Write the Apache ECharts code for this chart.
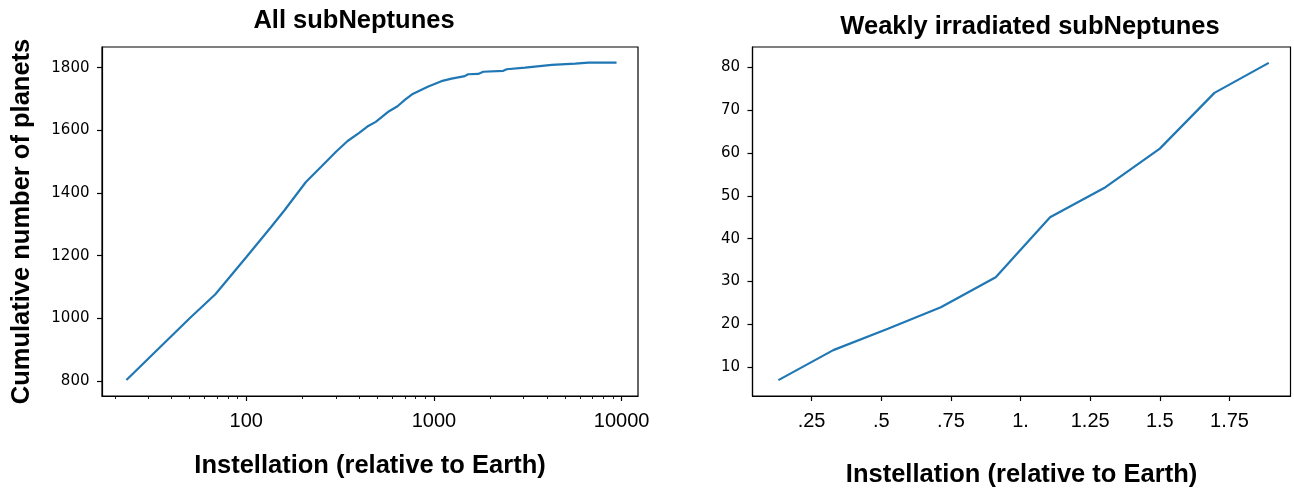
<!DOCTYPE html>
<html>
<head>
<meta charset="utf-8">
<script src="https://cdn.jsdelivr.net/npm/echarts@6/dist/echarts.min.js"></script>
<style>
  html, body { margin: 0; padding: 0; background: #fff; }
  #chart { width: 1294px; height: 489px; }
</style>
</head>
<body>
<div id="chart"></div>
<script>
// left panel: all subNeptunes, cumulative count against instellation (log axis)
var allInstellation = [23, 50, 68.5, 100, 135, 160, 208, 250, 300, 347, 400, 442, 490, 577, 640, 700,
  771, 927, 1096, 1243, 1460, 1521, 1722, 1832, 2344, 2442, 3062, 4247, 5660, 6670, 9400];
var allCount = [803, 1000, 1077, 1195, 1290, 1345, 1435, 1483, 1531, 1566, 1592, 1612, 1627, 1661, 1677, 1697,
  1716, 1739, 1757, 1765, 1773, 1779, 1780, 1787, 1790, 1795, 1800, 1809, 1813, 1816, 1816];

// right panel: weakly irradiated subNeptunes
var weakInstellation = [0.131, 0.328, 0.524, 0.714, 0.911, 1.106, 1.305, 1.5, 1.696, 1.891];
var weakCount = [7, 14, 19, 24, 31, 45, 52, 61, 74, 81];

// ticks and labels
var allXTicks = [100, 1000, 10000];
var allXLabels = ['100', '1000', '10000'];
var allXMinorTicks = [20, 30, 40, 50, 60, 70, 80, 90, 200, 300, 400, 500, 600, 700, 800, 900,
  2000, 3000, 4000, 5000, 6000, 7000, 8000, 9000];
var allYTicks = [800, 1000, 1200, 1400, 1600, 1800];
var weakXTicks = [0.25, 0.5, 0.75, 1, 1.25, 1.5, 1.75];
var weakXLabels = ['.25', '.5', '.75', '1.', '1.25', '1.5', '1.75'];
var weakYTicks = [10, 20, 30, 40, 50, 60, 70, 80];

function pairs(xs, ys) {
  return xs.map(function (x, i) { return [x, ys[i]]; });
}

var blue = '#1f77b4';
var boldName = { fontFamily: 'Liberation Sans', fontWeight: 'bold', fontSize: 25.5, color: '#000' };
var xLabelStyle = { fontFamily: 'Liberation Sans', fontSize: 20, color: '#000', margin: 15 };
var yLabelStyle = { fontFamily: 'DejaVu Sans', fontSize: 15, color: '#000', margin: 12.5,
  formatter: function (v) { return String(v); } };
var tickStyle = { length: 5, lineStyle: { color: '#000', width: 1.2 } };
var lineAxis = { show: true, lineStyle: { color: '#000', width: 1.2 } };

var myChart = echarts.init(document.getElementById('chart'));
myChart.setOption({
  animation: false,
  backgroundColor: '#fff',
  title: [
    { text: 'All subNeptunes', left: 354, top: 21, textAlign: 'center', textVerticalAlign: 'middle',
      padding: 0, textStyle: boldName },
    { text: 'Weakly irradiated subNeptunes', left: 1030, top: 26.5, textAlign: 'center', textVerticalAlign: 'middle',
      padding: 0, textStyle: boldName }
  ],
  grid: [
    { left: 102, top: 47, width: 536, height: 349, show: true, borderColor: '#000', borderWidth: 1.2,
      outerBoundsMode: 'none' },
    { left: 102, top: 47, width: 536, height: 349, show: false, outerBoundsMode: 'none' },
    { left: 752.5, top: 47, width: 538, height: 349, show: true, borderColor: '#000', borderWidth: 1.2,
      outerBoundsMode: 'none' }
  ],
  xAxis: [
    {
      type: 'log', gridIndex: 0, logBase: 10, min: 17.05, max: 12230,
      axisLine: lineAxis, splitLine: { show: false },
      axisTick: Object.assign({ customValues: allXTicks }, tickStyle),
      axisLabel: Object.assign({
        customValues: allXTicks,
        formatter: function (v) { return allXLabels[allXTicks.indexOf(Math.round(v))] || ''; }
      }, xLabelStyle),
      name: 'Instellation (relative to Earth)', nameLocation: 'middle', nameGap: 57, nameTextStyle: boldName
    },
    {
      type: 'log', gridIndex: 1, logBase: 10, min: 17.05, max: 12230,
      axisLine: { show: false }, splitLine: { show: false }, axisLabel: { show: false },
      axisTick: { customValues: allXMinorTicks, length: 3, lineStyle: { color: '#000', width: 0.9 } }
    },
    {
      type: 'value', gridIndex: 2, min: 0.038, max: 1.969,
      axisLine: lineAxis, splitLine: { show: false },
      axisTick: Object.assign({ customValues: weakXTicks }, tickStyle),
      axisLabel: Object.assign({
        customValues: weakXTicks,
        formatter: function (v) {
          for (var i = 0; i < weakXTicks.length; i++) {
            if (Math.abs(weakXTicks[i] - v) < 1e-6) return weakXLabels[i];
          }
          return '';
        }
      }, xLabelStyle),
      name: 'Instellation (relative to Earth)', nameLocation: 'middle', nameGap: 66, nameTextStyle: boldName
    }
  ],
  yAxis: [
    {
      type: 'value', gridIndex: 0, min: 752, max: 1866,
      axisLine: lineAxis, splitLine: { show: false },
      axisTick: Object.assign({ customValues: allYTicks }, tickStyle),
      axisLabel: Object.assign({ customValues: allYTicks }, yLabelStyle),
      name: 'Cumulative number of planets', nameLocation: 'middle', nameGap: 67, nameTextStyle: boldName
    },
    { type: 'value', gridIndex: 1, min: 752, max: 1866, show: false },
    {
      type: 'value', gridIndex: 2, min: 3.3, max: 84.7,
      axisLine: lineAxis, splitLine: { show: false },
      axisTick: Object.assign({ customValues: weakYTicks }, tickStyle),
      axisLabel: Object.assign({ customValues: weakYTicks }, yLabelStyle)
    }
  ],
  series: [
    {
      type: 'line', xAxisIndex: 0, yAxisIndex: 0, data: pairs(allInstellation, allCount),
      showSymbol: false, symbol: 'none', lineStyle: { color: blue, width: 2.2 }
    },
    {
      type: 'line', xAxisIndex: 2, yAxisIndex: 2, data: pairs(weakInstellation, weakCount),
      showSymbol: false, symbol: 'none', lineStyle: { color: blue, width: 2.2 }
    }
  ]
});
</script>
</body>
</html>
